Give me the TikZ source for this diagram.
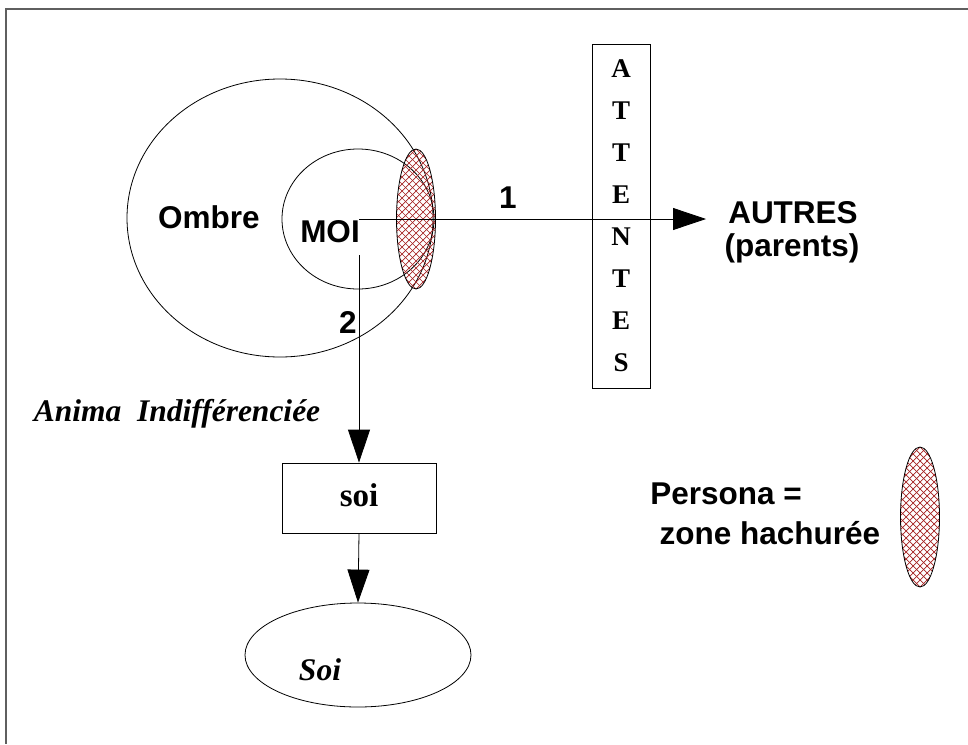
\documentclass[tikz,border=0pt]{standalone}
\usepackage{fontspec}
\setmainfont{Liberation Serif}
\setsansfont{Liberation Sans}
\usetikzlibrary{shapes.geometric,arrows.meta}
\definecolor{hatchred}{RGB}{165,35,35}
\definecolor{framegrey}{RGB}{95,95,95}
\begin{document}
\begin{tikzpicture}[x=1pt,y=-1pt,
  bubble/.style={draw, ellipse, line width=0.8pt, inner sep=0pt},
  hatched/.style={draw, ellipse, line width=0.8pt, inner sep=0pt,
    minimum width=39pt, minimum height=140pt,
    path picture={
      \foreach \k in {-40,...,40}{
        \draw[hatchred, line width=0.7pt]
          ([shift={(\k*7pt-150pt,-150pt)}]path picture bounding box.center) -- ++(300pt,300pt);
        \draw[hatchred, line width=0.7pt]
          ([shift={(\k*7pt-150pt,150pt)}]path picture bounding box.center) -- ++(300pt,-300pt);
      }}},
  sanslabel/.style={font=\sffamily\bfseries\fontsize{31.5}{36}\selectfont, inner sep=0pt},
  seriflabel/.style={font=\rmfamily\bfseries\fontsize{33}{38}\selectfont, inner sep=0pt},
  italiclabel/.style={font=\rmfamily\bfseries\itshape\fontsize{31.5}{36}\selectfont, inner sep=0pt},
  framebox/.style={draw, line width=0.8pt},
  flow/.style={line width=0.8pt, -{Triangle[length=33pt,width=22pt]}}]
\useasboundingbox (0,0) rectangle (968,744);

% page frame (top and left edges)
\draw[framegrey, line width=1.5pt] (968,9) -- (6,9) -- (6,744);

% Ombre, MOI and the persona zone
\node[bubble, minimum width=306pt, minimum height=278pt] (ombre) at (280,218) {};
\node[bubble, minimum width=152pt, minimum height=140pt] (moi) at (358,219) {};
\node[hatched] (persona) at (416,219) {};
\node[sanslabel] (ombreT) at (209,217) {Ombre};
\node[sanslabel] (moiT) at (330,232) {MOI};
\coordinate (moiC) at (359,219);
\coordinate (moiB) at (359,255);

% ATTENTES column
\node[framebox, minimum width=58pt, minimum height=344pt, inner sep=0pt,
      align=center, font=\rmfamily\bfseries\fontsize{27}{42}\selectfont]
  (attentes) at (621,216) {A\\T\\T\\E\\N\\T\\E\\S};

% AUTRES
\node[sanslabel] (autres) at (793,213) {AUTRES};
\node[sanslabel] (parents) at (792,248) {(parents)};
\coordinate (autresIn) at (706,219);

% connectors
\draw[flow] (moiC) -- (autresIn);
\node[sanslabel] (one) at (508,198) {1};

\node[framebox, minimum width=154pt, minimum height=70pt] (soibox) at (359,498) {};
\node[seriflabel] (soiT) at (359,495) {soi};
\node[bubble, minimum width=226pt, minimum height=104pt] (soiell) at (358,655) {};
\node[italiclabel] (soiE) at (320,670) {Soi};

\draw[flow] (moiB) -- (soibox.north);
\node[sanslabel] (two) at (348,322) {2};
\draw[flow] (soibox.south) -- (soiell.north);

\node[italiclabel] (anima) at (177,414) {Anima\ \ Indifférenciée};

% legend
\node[sanslabel] (legend1) at (726,494) {Persona =};
\node[sanslabel] (legend2) at (770,533) {zone hachurée};
\node[hatched] (legendzone) at (920,517) {};
\end{tikzpicture}
\end{document}
